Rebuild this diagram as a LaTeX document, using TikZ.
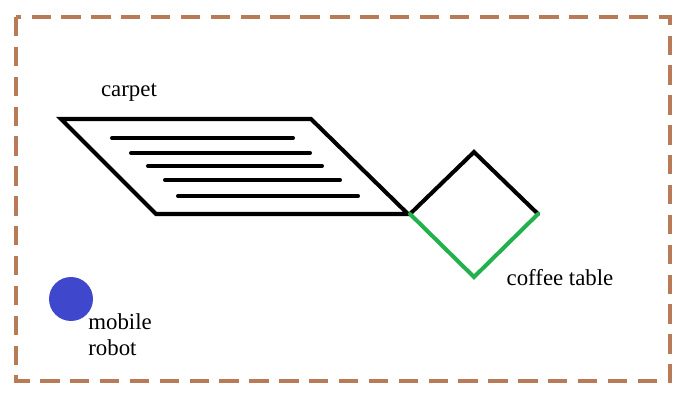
\documentclass[tikz,border=0pt]{standalone}
\usepackage{fontspec}
\setmainfont{Liberation Serif}
\usepackage{tikz}
\definecolor{wallbrown}{RGB}{185,122,87}
\definecolor{tablegreen}{RGB}{34,177,76}
\definecolor{robotblue}{RGB}{63,72,204}
\tikzstyle{wall}=[draw=wallbrown,line width=2.4pt,dash pattern=on 11pt off 6pt]
\tikzstyle{edge}=[draw,line width=2.3pt,line cap=round,line join=miter]
\tikzstyle{label}=[font=\fontsize{13}{15}\selectfont,inner sep=0pt]
\begin{document}
\begin{tikzpicture}[x=0.02cm,y=-0.02cm]
        \useasboundingbox (0,0) rectangle (700,408);
        \draw[wall] (16,17) rectangle (670,381);
        % carpet
        \coordinate (c1) at (61,119);
        \coordinate (c2) at (311,119);
        \coordinate (c3) at (408,214);
        \coordinate (c4) at (156,214);
        \draw[edge] (c1) -- (c2) -- (c3) -- (c4) -- cycle;
        \draw[edge] (112,138) -- (293,138);
        \draw[edge] (131,153) -- (310,153);
        \draw[edge] (148,166) -- (322,166);
        \draw[edge] (165,180) -- (340,180);
        \draw[edge] (178,196) -- (358,196);
        \node[label] (carpet) at (129,93) {carpet};
        % coffee table
        \coordinate (t) at (474,152);
        \coordinate (l) at (410,214);
        \coordinate (r) at (538,214);
        \coordinate (b) at (474,277);
        \draw[edge] (l) -- (t) -- (r);
        \draw[edge,draw=tablegreen] (l) -- (b) -- (r);
        \node[label] (table) at (560,278) {coffee table};
        % robot
        \node[circle,fill=robotblue,minimum size=0.88cm,inner sep=0pt] (robot) at (71,299) {};
        \node[label,align=left,anchor=north west] (robotlabel) at (88,313) {mobile\\robot};
      \end{tikzpicture}
\end{document}
